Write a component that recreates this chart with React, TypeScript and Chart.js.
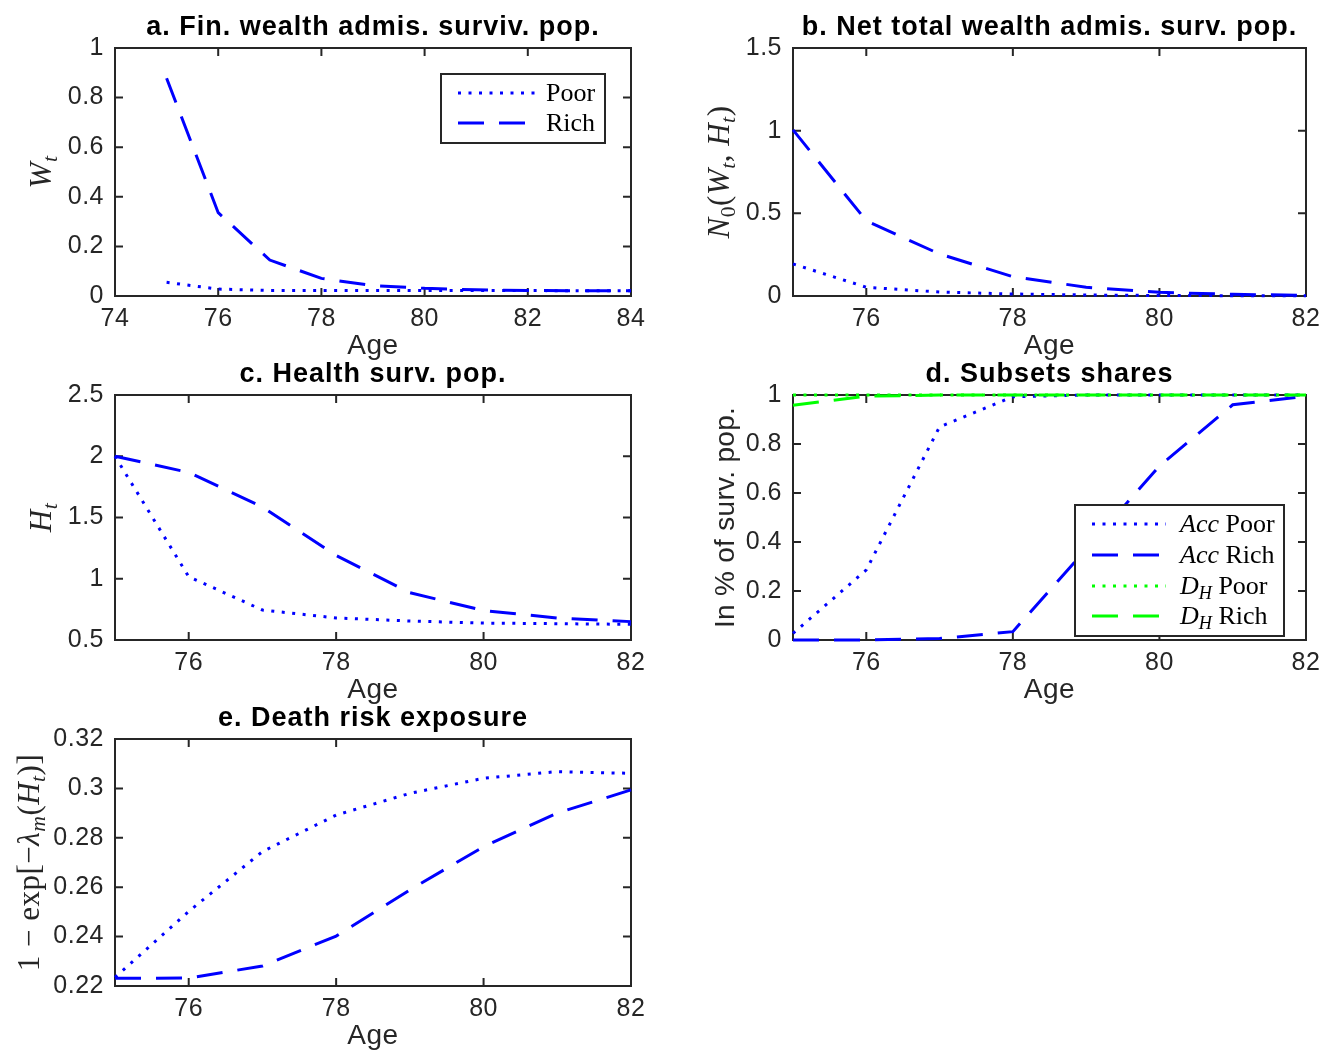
import React, { useEffect, useRef } from 'react';
import { Chart, registerables } from 'chart.js';

Chart.register(...registerables);

// ---------------- data ----------------
const agesA = [75, 76, 77, 78, 79, 80, 81, 82, 83, 84];
const ages = [75, 76, 77, 78, 79, 80, 81, 82];

const finWealthPoor = [0.055, 0.028, 0.022, 0.022, 0.022, 0.022, 0.022, 0.022, 0.021, 0.021];
const finWealthRich = [0.878, 0.336, 0.145, 0.071, 0.042, 0.031, 0.025, 0.022, 0.021, 0.021];

const netWealthPoor = [0.194, 0.053, 0.024, 0.012, 0.006, 0.003, 0.002, 0.001];
const netWealthRich = [1.005, 0.455, 0.254, 0.117, 0.053, 0.022, 0.01, 0.004];

const healthPoor = [2.0, 1.017, 0.745, 0.68, 0.655, 0.638, 0.633, 0.628];
const healthRich = [2.0, 1.868, 1.586, 1.19, 0.886, 0.74, 0.68, 0.65];

const accPoor = [0.027, 0.286, 0.87, 0.993, 1, 1, 1, 1];
const accRich = [0, 0, 0.006, 0.034, 0.37, 0.71, 0.96, 0.995];
const dhPoor = [1, 1, 1, 1, 1, 1, 1, 1];
const dhRich = [0.958, 0.995, 1, 1, 1, 1, 1, 1];

const deathPoor = [0.2235, 0.2502, 0.2744, 0.2892, 0.298, 0.3041, 0.3068, 0.3061];
const deathRich = [0.2231, 0.2232, 0.2281, 0.2402, 0.2589, 0.2764, 0.29, 0.2994];

const xTicksA = [74, 76, 78, 80, 82, 84];
const xTicksB = [76, 78, 80, 82];
const yTicksA = [0, 0.2, 0.4, 0.6, 0.8, 1];
const yTicksB = [0, 0.5, 1, 1.5];
const yTicksC = [0.5, 1, 1.5, 2, 2.5];
const yTicksD = [0, 0.2, 0.4, 0.6, 0.8, 1];
const yTicksE = [0.22, 0.24, 0.26, 0.28, 0.3, 0.32];

// ---------------- styles ----------------
const SANS = '"Liberation Sans", Arial, Helvetica, sans-serif';
const SERIF = '"Liberation Serif", "Times New Roman", serif';
const AXIS = '#262626';
const BLUE = '#0000ff';
const GREEN = '#00ff00';
const DOT = [3, 7.5];
const DASH = [26, 15];

type Seg = { t: string; i?: boolean; sub?: boolean };

function segFont(s: Seg, size: number, family: string) {
  const sz = s.sub ? size * 0.7 : size;
  return `${s.i ? 'italic ' : ''}${sz}px ${family}`;
}
function drawRich(ctx: CanvasRenderingContext2D, segs: Seg[], x: number, y: number, size: number, family: string, align: 'left' | 'center', color: string) {
  let total = 0;
  for (const s of segs) {
    ctx.font = segFont(s, size, family);
    total += ctx.measureText(s.t).width;
  }
  let cx = align === 'center' ? x - total / 2 : x;
  ctx.textAlign = 'left';
  ctx.textBaseline = 'alphabetic';
  ctx.fillStyle = color;
  const base = y + size * 0.34;
  for (const s of segs) {
    ctx.font = segFont(s, size, family);
    const dy = s.sub ? size * 0.2 : 0;
    ctx.fillText(s.t, cx, base + dy);
    cx += ctx.measureText(s.t).width;
  }
}

type Series = { data: number[]; color: string; style: 'dot' | 'dash' };
type LegendCfg = { x: number; y: number; w: number; h: number; rows: number[]; s0: number; s1: number; tx: number; labels: Seg[][] };
type PanelCfg = {
  plot: { l: number; t: number; r: number; b: number };
  padRight: number;
  xs: number[];
  series: Series[];
  xMin: number; xMax: number; xTicks: number[];
  yMin: number; yMax: number; yTicks: number[];
  title: string;
  yLabel: Seg[]; yLabelFamily: string; yLabelSize: number; yLabelDx: number;
  legend?: LegendCfg;
};

const PAD_L = 115, PAD_T = 48, PAD_B = 76;

const panels: PanelCfg[] = [
  {
    plot: { l: 115, t: 48, r: 631, b: 296 }, padRight: 30, xs: agesA,
    series: [
      { data: finWealthPoor, color: BLUE, style: 'dot' },
      { data: finWealthRich, color: BLUE, style: 'dash' },
    ],
    xMin: 74, xMax: 84, xTicks: xTicksA, yMin: 0, yMax: 1, yTicks: yTicksA,
    title: 'a. Fin. wealth admis. surviv. pop.',
    yLabel: [{ t: 'W', i: true }, { t: 't', i: true, sub: true }], yLabelFamily: SERIF, yLabelSize: 31, yLabelDx: -75,
    legend: { x: 326, y: 26, w: 164, h: 69, rows: [45, 75], s0: 343, s1: 420, tx: 431, labels: [[{ t: 'Poor' }], [{ t: 'Rich' }]] },
  },
  {
    plot: { l: 793, t: 48, r: 1306, b: 296 }, padRight: 26, xs: ages,
    series: [
      { data: netWealthPoor, color: BLUE, style: 'dot' },
      { data: netWealthRich, color: BLUE, style: 'dash' },
    ],
    xMin: 75, xMax: 82, xTicks: xTicksB, yMin: 0, yMax: 1.5, yTicks: yTicksB,
    title: 'b. Net total wealth admis. surv. pop.',
    yLabel: [{ t: 'N', i: true }, { t: '0', sub: true }, { t: '(' }, { t: 'W', i: true }, { t: 't', i: true, sub: true }, { t: ', ' }, { t: 'H', i: true }, { t: 't', i: true, sub: true }, { t: ')' }],
    yLabelFamily: SERIF, yLabelSize: 31, yLabelDx: -75,
  },
  {
    plot: { l: 115, t: 395, r: 631, b: 640 }, padRight: 30, xs: ages,
    series: [
      { data: healthPoor, color: BLUE, style: 'dot' },
      { data: healthRich, color: BLUE, style: 'dash' },
    ],
    xMin: 75, xMax: 82, xTicks: xTicksB, yMin: 0.5, yMax: 2.5, yTicks: yTicksC,
    title: 'c. Health surv. pop.',
    yLabel: [{ t: 'H', i: true }, { t: 't', i: true, sub: true }], yLabelFamily: SERIF, yLabelSize: 31, yLabelDx: -75,
  },
  {
    plot: { l: 793, t: 395, r: 1306, b: 640 }, padRight: 26, xs: ages,
    series: [
      { data: accPoor, color: BLUE, style: 'dot' },
      { data: accRich, color: BLUE, style: 'dash' },
      { data: dhPoor, color: GREEN, style: 'dot' },
      { data: dhRich, color: GREEN, style: 'dash' },
    ],
    xMin: 75, xMax: 82, xTicks: xTicksB, yMin: 0, yMax: 1, yTicks: yTicksD,
    title: 'd. Subsets shares',
    yLabel: [{ t: 'In % of surv. pop.' }], yLabelFamily: SANS, yLabelSize: 28, yLabelDx: -69,
    legend: {
      x: 282, y: 110, w: 209, h: 131, rows: [129, 160, 191, 221], s0: 299, s1: 373, tx: 387,
      labels: [
        [{ t: 'Acc', i: true }, { t: ' Poor' }],
        [{ t: 'Acc', i: true }, { t: ' Rich' }],
        [{ t: 'D', i: true }, { t: 'H', i: true, sub: true }, { t: ' Poor' }],
        [{ t: 'D', i: true }, { t: 'H', i: true, sub: true }, { t: ' Rich' }],
      ],
    },
  },
  {
    plot: { l: 115, t: 739, r: 631, b: 986 }, padRight: 30, xs: ages,
    series: [
      { data: deathPoor, color: BLUE, style: 'dot' },
      { data: deathRich, color: BLUE, style: 'dash' },
    ],
    xMin: 75, xMax: 82, xTicks: xTicksB, yMin: 0.22, yMax: 0.32, yTicks: yTicksE,
    title: 'e. Death risk exposure',
    yLabel: [{ t: '1 − exp[−' }, { t: 'λ', i: true }, { t: 'm', i: true, sub: true }, { t: '(' }, { t: 'H', i: true }, { t: 't', i: true, sub: true }, { t: ')]' }],
    yLabelFamily: SERIF, yLabelSize: 31, yLabelDx: -87,
  },
];

function fmt(v: number) {
  return String(+Number(v).toFixed(2));
}

function Panel({ cfg }: { cfg: PanelCfg }) {
  const ref = useRef<HTMLCanvasElement>(null);
  const w = cfg.plot.r - cfg.plot.l + PAD_L + cfg.padRight;
  const h = cfg.plot.b - cfg.plot.t + PAD_T + PAD_B;
  const left = cfg.plot.l - PAD_L;
  const top = cfg.plot.t - PAD_T;

  useEffect(() => {
    const canvas = ref.current!;
    const n = cfg.series.length;
    const plugin = {
      id: 'matlabStyle',
      beforeDraw(chart: any) {
        chart.ctx.letterSpacing = '0.5px';
      },
      beforeDatasetsDraw(chart: any) {
        const ctx: CanvasRenderingContext2D = chart.ctx;
        const a = chart.chartArea;
        const xs = chart.scales.x, ys = chart.scales.y;
        ctx.save();
        ctx.strokeStyle = AXIS;
        ctx.lineWidth = 2;
        ctx.setLineDash([]);
        ctx.strokeRect(a.left, a.top, a.right - a.left, a.bottom - a.top);
        const TL = 8;
        ctx.beginPath();
        for (const t of xs.ticks) {
          const px = xs.getPixelForValue(t.value);
          ctx.moveTo(px, a.bottom); ctx.lineTo(px, a.bottom - TL);
          ctx.moveTo(px, a.top); ctx.lineTo(px, a.top + TL);
        }
        for (const t of ys.ticks) {
          const py = ys.getPixelForValue(t.value);
          ctx.moveTo(a.left, py); ctx.lineTo(a.left + TL, py);
          ctx.moveTo(a.right, py); ctx.lineTo(a.right - TL, py);
        }
        ctx.stroke();
        ctx.restore();
      },
      afterDatasetsDraw(chart: any) {
        const lg = cfg.legend;
        if (!lg) return;
        const ctx: CanvasRenderingContext2D = chart.ctx;
        const a = chart.chartArea;
        ctx.save();
        ctx.fillStyle = '#ffffff';
        ctx.fillRect(a.left + lg.x, a.top + lg.y, lg.w, lg.h);
        ctx.strokeStyle = AXIS;
        ctx.lineWidth = 2;
        ctx.setLineDash([]);
        ctx.strokeRect(a.left + lg.x, a.top + lg.y, lg.w, lg.h);
        chart.data.datasets.forEach((ds: any, i: number) => {
          const y = a.top + lg.rows[i];
          ctx.beginPath();
          ctx.strokeStyle = ds.borderColor;
          ctx.lineWidth = ds.borderWidth;
          ctx.setLineDash(ds.borderDash);
          ctx.moveTo(a.left + lg.s0, y);
          ctx.lineTo(a.left + lg.s1, y);
          ctx.stroke();
          ctx.setLineDash([]);
          ctx.letterSpacing = '0px';
          drawRich(ctx, lg.labels[i], a.left + lg.tx, y - 1, 26, SERIF, 'left', '#000000');
        });
        ctx.restore();
      },
      afterDraw(chart: any) {
        const ctx: CanvasRenderingContext2D = chart.ctx;
        const a = chart.chartArea;
        const cx = (a.left + a.right) / 2;
        ctx.save();
        // title
        ctx.letterSpacing = '1px';
        ctx.font = `bold 27px ${SANS}`;
        ctx.fillStyle = '#000000';
        ctx.textAlign = 'center';
        ctx.textBaseline = 'middle';
        ctx.fillText(cfg.title, cx, a.top - 20);
        // x label
        ctx.letterSpacing = '0.5px';
        ctx.font = `28px ${SANS}`;
        ctx.fillStyle = AXIS;
        ctx.fillText('Age', cx, a.bottom + 50);
        // y label
        ctx.translate(a.left + cfg.yLabelDx, (a.top + a.bottom) / 2);
        ctx.rotate(-Math.PI / 2);
        ctx.letterSpacing = cfg.yLabelFamily === SANS ? '0.3px' : '0.5px';
        drawRich(ctx, cfg.yLabel, 0, 0, cfg.yLabelSize, cfg.yLabelFamily, 'center', AXIS);
        ctx.restore();
      },
    };

    const chart = new Chart(canvas, {
      type: 'line',
      data: {
        datasets: cfg.series.map((s, i) => ({
          data: cfg.xs.map((x, k) => ({ x, y: s.data[k] })),
          borderColor: s.color,
          backgroundColor: s.color,
          borderWidth: 3,
          borderDash: s.style === 'dot' ? DOT : DASH,
          borderCapStyle: 'butt',
          pointRadius: 0,
          tension: 0,
          fill: false,
          clip: false,
          order: n - i,
        })),
      } as any,
      options: {
        animation: false,
        responsive: false,
        maintainAspectRatio: false,
        devicePixelRatio: 1,
        events: [],
        layout: { padding: { left: 0, top: PAD_T, right: cfg.padRight, bottom: 0 }, autoPadding: false },
        plugins: { legend: { display: false }, title: { display: false }, tooltip: { enabled: false } },
        scales: {
          x: {
            type: 'linear',
            min: cfg.xMin,
            max: cfg.xMax,
            grid: { display: false, drawTicks: false },
            border: { display: false },
            afterBuildTicks: (scale: any) => {
              scale.ticks = cfg.xTicks.map((v) => ({ value: v }));
            },
            afterFit: (scale: any) => {
              scale.height = PAD_B;
            },
            ticks: {
              callback: (v: any) => fmt(v),
              font: { family: SANS, size: 25 },
              color: AXIS,
              padding: 8,
              maxRotation: 0,
              autoSkip: false,
            },
          },
          y: {
            type: 'linear',
            min: cfg.yMin,
            max: cfg.yMax,
            grid: { display: false, drawTicks: false },
            border: { display: false },
            afterBuildTicks: (scale: any) => {
              scale.ticks = cfg.yTicks.map((v) => ({ value: v }));
            },
            afterFit: (scale: any) => {
              scale.width = PAD_L;
            },
            ticks: {
              callback: (v: any) => fmt(v),
              font: { family: SANS, size: 25 },
              color: AXIS,
              padding: 11,
              autoSkip: false,
            },
          },
        },
      } as any,
      plugins: [plugin],
    });
    return () => chart.destroy();
  }, []);

  return (
    <canvas
      ref={ref}
      width={w}
      height={h}
      style={{ position: 'absolute', left, top, width: w, height: h }}
    />
  );
}

export default function App() {
  return (
    <div style={{ position: 'absolute', left: 0, top: 0, width: 1324, height: 1050, overflow: 'hidden', background: '#ffffff' }}>
      {panels.map((p, i) => (
        <Panel key={i} cfg={p} />
      ))}
    </div>
  );
}
